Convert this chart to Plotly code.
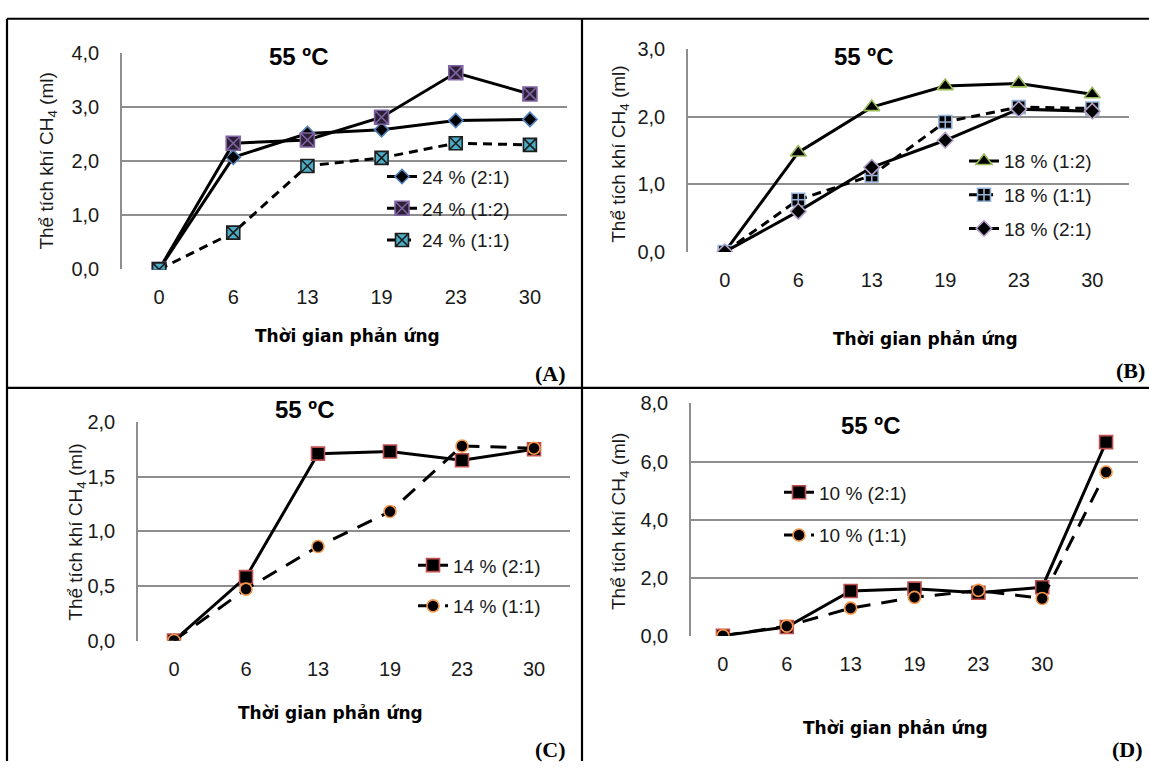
import plotly.graph_objects as go

W, H = 1149, 772

# ---------------- data ----------------
time_labels = ["0", "6", "13", "19", "23", "30"]
time_labels_d = ["0", "6", "13", "19", "23", "30", ""]

a_names = ["24 % (2:1)", "24 % (1:2)", "24 % (1:1)"]
a_21 = [0.0, 2.07, 2.51, 2.58, 2.75, 2.77]
a_12 = [0.0, 2.33, 2.39, 2.81, 3.63, 3.24]
a_12_err = [0, 0, 0, 0, 0.12, 0]
a_11 = [0.0, 0.68, 1.91, 2.06, 2.33, 2.30]

b_names = ["18 % (1:2)", "18 % (1:1)", "18 % (2:1)"]
b_12 = [0.0, 1.47, 2.14, 2.45, 2.49, 2.33]
b_11 = [0.0, 0.77, 1.13, 1.92, 2.14, 2.12]
b_21 = [0.0, 0.60, 1.25, 1.65, 2.11, 2.08]

c_names = ["14 % (2:1)", "14 % (1:1)"]
c_21 = [0.0, 0.58, 1.71, 1.73, 1.65, 1.75]
c_11 = [0.0, 0.47, 0.86, 1.18, 1.78, 1.76]

d_names = ["10 % (2:1)", "10 % (1:1)"]
d_21 = [0.0, 0.30, 1.54, 1.62, 1.48, 1.67, 6.67]
d_11 = [0.0, 0.33, 0.95, 1.32, 1.56, 1.28, 5.64]

panel_titles = ["55 ºC", "55 ºC", "55 ºC", "55 ºC"]
panel_tags = ["(A)", "(B)", "(C)", "(D)"]
x_title = "Thời gian phản ứng"
y_title = "Thể tích khí CH<sub>4</sub> (ml)"

# ---------------- helpers ----------------
def px(p):
    return p / W

def py(p):
    return 1 - p / H

FONT = "Liberation Sans, Arial, sans-serif"
BOLD = "Liberation Sans, Arial, sans-serif"
XFONT = "DejaVu Sans, Verdana, sans-serif"
SERIF = "Liberation Serif, Times New Roman, serif"
GRID = "#8e8e8e"
TXT = "#1a1a1a"

fig = go.Figure()

def add(xa, ya, leg, name, vals, symbol, mcolor, lcolor, msize, dash, group, err=None):
    idx = list(range(len(vals)))
    tr = go.Scatter(
        x=idx, y=vals, name=name, mode="lines+markers",
        xaxis=xa, yaxis=ya, legend=leg, legendgroup=group,
        line=dict(color="black", width=3, dash=dash),
        marker=dict(symbol=symbol, size=msize, color=mcolor,
                    line=dict(color=lcolor, width=1.6)),
    )
    if err is not None:
        tr.error_y = dict(type="data", array=err, visible=True, color="black",
                          thickness=1.5, width=5)
    fig.add_trace(tr)

# Panel A
add("x", "y", "legend", a_names[0], a_21, "diamond", "black", "#4f81bd", 11, "solid", "a1")
add("x", "y", "legend", a_names[1], a_12, "square-x", "#2b2035", "#8064a2", 14, "solid", "a2", a_12_err)
add("x", "y", "legend", a_names[2], a_11, "square-x", "#4bacc6", "#1d1d1d", 13, "9px,6px", "a3")

# Panel B
add("x2", "y2", "legend2", b_names[0], b_12, "triangle-up", "black", "#9bbb59", 14, "solid", "b1")
add("x2", "y2", "legend2", b_names[1], b_11, "square-cross", "black", "#95b3d7", 13, "9px,6px", "b2")
add("x2", "y2", "legend2", b_names[2], b_21, "diamond", "black", "#b3a2c7", 12, "solid", "b3")

# Panel C
add("x3", "y3", "legend3", c_names[0], c_21, "square", "black", "#c0504d", 13, "solid", "c1")
add("x3", "y3", "legend3", c_names[1], c_11, "circle", "black", "#f79646", 12, "16px,11px", "c2")

# Panel D
add("x4", "y4", "legend4", d_names[0], d_21, "square", "black", "#c0504d", 13, "solid", "d1")
add("x4", "y4", "legend4", d_names[1], d_11, "circle", "black", "#f79646", 12, "16px,11px", "d2")

# ---------------- axes ----------------
panels = [
    # (suffix, left, right, top, bottom, ymax, dtick, labels)
    ("", 122, 567, 43, 266, 4.0, 1.0, time_labels),
    ("2", 688, 1129, 39, 248, 3.0, 1.0, time_labels),
    ("3", 138, 570, 423, 648, 2.0, 0.5, time_labels),
    ("4", 691, 1138, 404, 643, 8.0, 2.0, time_labels_d),
]

for suf, l, r, t, b, ymax, dt, labels in panels:
    n = len(labels)
    fig.layout["xaxis" + suf] = dict(
        domain=[px(l), px(r)], anchor="y" + suf, range=[-0.5, n - 0.5],
        tickmode="array", tickvals=list(range(n)), ticktext=labels,
        showgrid=False, zeroline=False, showline=False, ticks="",
        tickfont=dict(family=FONT, size=20, color=TXT), ticklabelstandoff=14,
        fixedrange=True,
    )
    fig.layout["yaxis" + suf] = dict(
        domain=[py(b), py(t)], anchor="x" + suf, range=[0, ymax],
        dtick=dt, tick0=0, tickformat=".1f",
        showgrid=True, gridcolor=GRID, gridwidth=1.6,
        zeroline=False, showline=True, linecolor=GRID, linewidth=1.6,
        ticks="", tickfont=dict(family=FONT, size=20, color=TXT),
        ticklabelstandoff=17, fixedrange=True,
    )

# ---------------- legends ----------------
def leg(xtext, ytop, gap):
    return dict(x=px(xtext - 42), y=py(ytop), xanchor="left", yanchor="top",
                bgcolor="rgba(0,0,0,0)", borderwidth=0,
                font=dict(family=FONT, size=19, color=TXT),
                tracegroupgap=gap, itemwidth=30, traceorder="grouped")

fig.update_layout(
    legend=leg(424, 151, 4),
    legend2=leg(1006, 135, 6),
    legend3=leg(455, 551, 13),
    legend4=leg(821, 476, 15),
)

# ---------------- annotations ----------------
ann = []
title_pos = [(298, 47), (863, 47), (304, 410), (870, 427)]
xt_pos = [(347, 335), (925, 338), (330, 723), (895, 738)]
yt_pos = [(48, 155), (620, 148), (77, 537), (620, 526)]
tag_pos = [(568, 373), (1147, 370), (568, 760), (1145, 760)]

for i in range(4):
    ann.append(dict(text="<b>" + panel_titles[i] + "</b>", x=px(title_pos[i][0]), y=py(title_pos[i][1]),
                    xref="paper", yref="paper", showarrow=False, xanchor="center", yanchor="middle",
                    font=dict(family=BOLD, size=24, color="black")))
    ann.append(dict(text="<b>" + x_title + "</b>", x=px(xt_pos[i][0]), y=py(xt_pos[i][1]),
                    xref="paper", yref="paper", showarrow=False, xanchor="center", yanchor="middle",
                    font=dict(family=XFONT, size=17, color="black")))
    ann.append(dict(text=y_title, x=px(yt_pos[i][0]), y=py(yt_pos[i][1]), textangle=-90,
                    xref="paper", yref="paper", showarrow=False, xanchor="center", yanchor="middle",
                    font=dict(family=FONT, size=19, color=TXT)))
    ann.append(dict(text="<b>" + panel_tags[i] + "</b>", x=px(tag_pos[i][0]), y=py(tag_pos[i][1]),
                    xref="paper", yref="paper", showarrow=False, xanchor="right", yanchor="middle",
                    font=dict(family=SERIF, size=22, color="black")))

# ---------------- frame lines ----------------
shapes = []
for (x0, y0, x1, y1) in [(7, 8, W, 8), (7, 8, 7, H), (582, 8, 582, H), (7, 388, W, 388)]:
    shapes.append(dict(type="line", xref="paper", yref="paper",
                       x0=px(x0), y0=py(y0), x1=px(x1), y1=py(y1),
                       line=dict(color="black", width=2.2)))

fig.update_layout(
    width=W, height=H, autosize=False,
    margin=dict(l=0, r=0, t=0, b=0),
    paper_bgcolor="white", plot_bgcolor="white",
    separators=", ",
    annotations=ann, shapes=shapes,
    showlegend=True,
)

fig.write_html("out.html",
               config={"displayModeBar": False},
               post_script="document.body.style.margin='0';document.body.style.overflow='hidden';")
